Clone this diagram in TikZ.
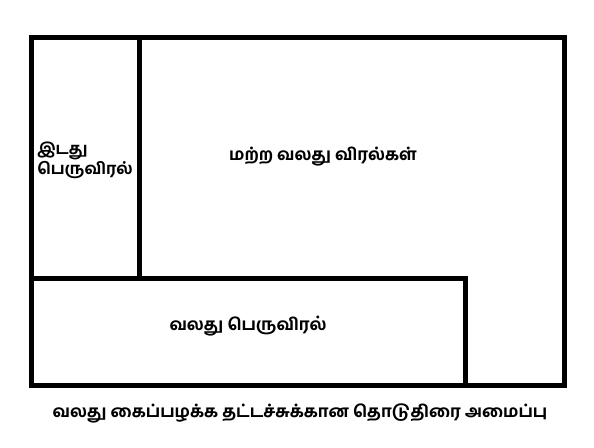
\documentclass[tikz,border=0pt]{standalone}
\usepackage{fontspec}
\newfontfamily\tamil[Script=Tamil]{Hind Madurai Bold}
\usetikzlibrary{positioning}

\begin{document}
\begin{tikzpicture}[x=1pt, y=-1pt,
				   every node/.style={font=\tamil\fontsize{16.6}{20}\selectfont, inner sep=0pt},
				   zone/.style={draw=black, line width=5pt, line join=miter}]
\useasboundingbox (0,0) rectangle (594,447);
% outer frame and the three zones
\draw[zone] (31,37) rectangle (564,385);
\draw[zone] (139,37) -- (139,278);
\draw[zone] (31,278) -- (465,278) -- (465,385);
\node[align=left, font=\tamil\fontsize{16}{20}\selectfont] (leftthumb) at (85,160) {இடது\\பெருவிரல்};
\node (fingers) at (323,157) {மற்ற வலது விரல்கள்};
\node (rightthumb) at (248,326) {வலது பெருவிரல்};
\node (caption) at (300,413) {வலது கைப்பழக்க தட்டச்சுக்கான தொடுதிரை அமைப்பு};
\end{tikzpicture}
\end{document}
